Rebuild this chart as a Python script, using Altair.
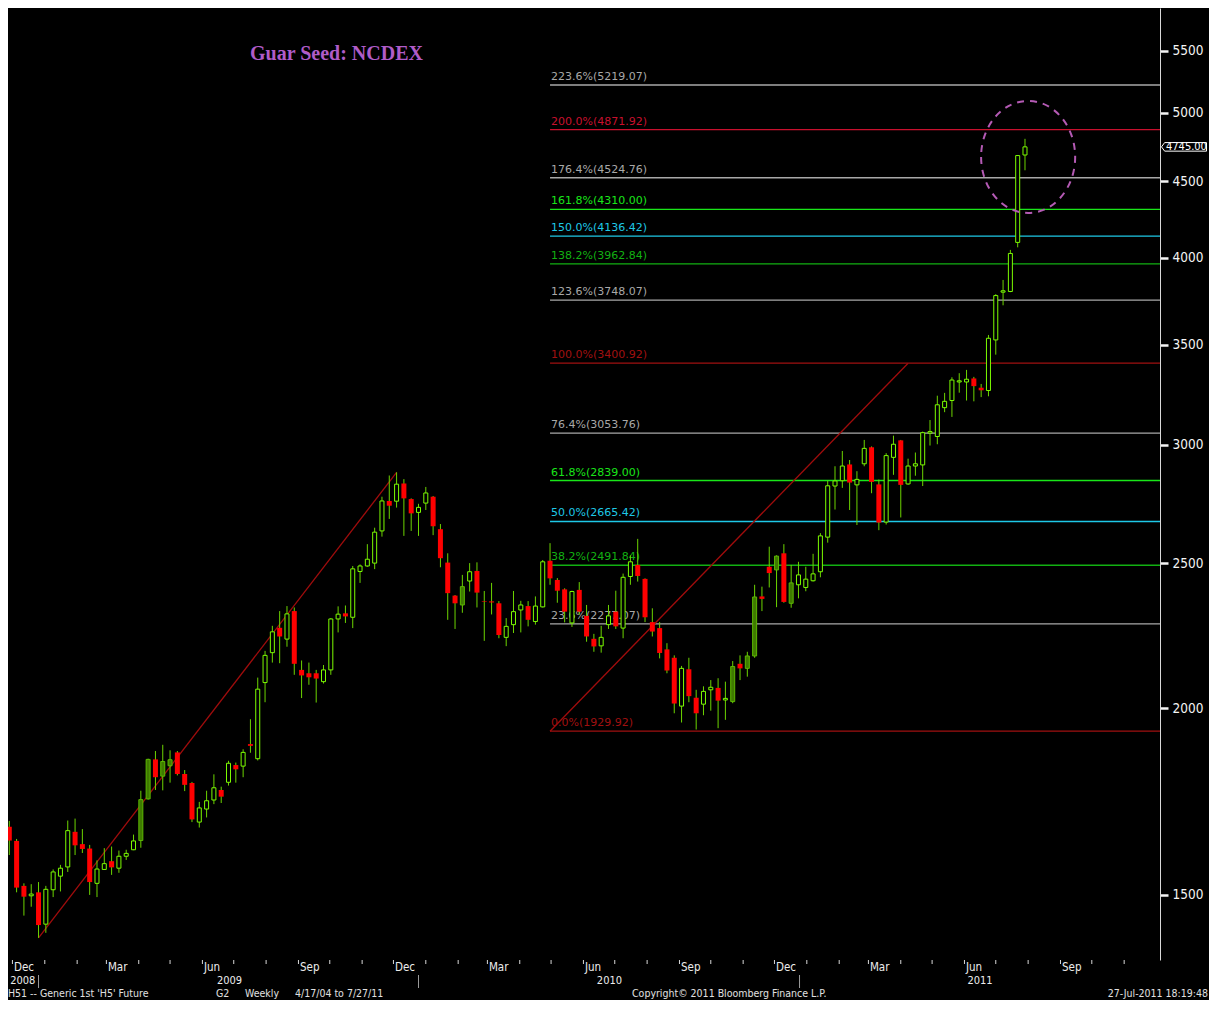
import altair as alt
import pandas as pd

# ---------------- data ----------------
start_date = "2008-11-28"   # first weekly bar (Friday)
opens = [1666,1630,1521,1498,1506,1434,1512,1544,1566,1653,1622,1611,1527,1560,1580,1563,1592,1608,1631,1739,
         1848,1801,1830,1868,1807,1782,1678,1712,1736,1763,1784,1832,1829,1892,1850,2080,2178,2263,2224,2322,
         2121,2110,2110,2083,2121,2294,2314,2300,2468,2489,2500,2627,2751,2750,2826,2759,2703,2742,2769,2634,
         2502,2378,2344,2432,2470,2357,2357,2350,2230,2274,2326,2340,2285,2337,2509,2436,2401,2280,2399,2305,
         2225,2201,2274,2320,2262,2449,2493,2440,2283,2262,2189,2161,2006,2123,2032,2012,2057,2063,2025,2020,
         2141,2126,2167,2375,2486,2474,2538,2350,2418,2408,2433,2467,2602,2815,2838,2910,2820,2913,2988,2822,
         2663,2942,3020,2824,2903,2908,3054,3038,3176,3211,3304,3304,3322,3275,3261,3525,3794,3798,4096,4686]
highs = [1681,1635,1527,1525,1530,1521,1560,1571,1682,1687,1660,1620,1582,1612,1616,1606,1608,1646,1761,1850,
         1872,1890,1874,1872,1818,1785,1731,1761,1806,1772,1844,1839,1877,1966,2096,2184,2270,2322,2340,2335,
         2152,2145,2121,2137,2297,2339,2342,2489,2495,2574,2640,2769,2861,2875,2845,2762,2739,2811,2772,2655,
         2538,2380,2455,2500,2503,2395,2425,2358,2297,2395,2359,2358,2375,2512,2578,2443,2405,2396,2428,2344,
         2242,2270,2344,2396,2460,2530,2595,2442,2332,2283,2210,2169,2134,2161,2057,2068,2088,2094,2083,2150,
         2169,2181,2418,2411,2564,2530,2574,2493,2505,2486,2536,2618,2838,2902,2971,2930,2880,3022,2992,2843,
         2961,3042,3022,2936,2964,3061,3116,3235,3249,3328,3349,3366,3330,3294,3552,3782,3866,4049,4686,4804]
lows = [1595,1506,1453,1473,1404,1415,1495,1508,1554,1595,1600,1500,1495,1559,1547,1552,1583,1607,1613,1737,
        1763,1762,1783,1803,1760,1678,1664,1690,1725,1728,1775,1783,1798,1867,1845,2018,2145,2143,2198,2105,
        2031,2073,2017,2077,2105,2247,2280,2262,2425,2486,2477,2604,2676,2723,2607,2627,2607,2713,2610,2484,
        2291,2259,2316,2393,2335,2218,2310,2227,2200,2245,2247,2268,2274,2335,2418,2352,2282,2266,2309,2215,
        2181,2178,2259,2259,2227,2418,2430,2283,2233,2159,2110,1984,1956,2018,1935,1978,1992,1939,1964,2015,
        2088,2099,2161,2322,2408,2336,2352,2334,2368,2394,2430,2446,2580,2715,2807,2713,2651,2902,2784,2630,
        2653,2864,2682,2820,2860,2815,2996,3002,3154,3131,3250,3211,3207,3228,3232,3446,3718,3794,4065,4577]
closes = [1631,1517,1496,1502,1432,1513,1554,1563,1656,1619,1610,1530,1561,1574,1565,1592,1599,1630,1737,1848,
          1798,1842,1847,1807,1777,1685,1715,1734,1769,1745,1837,1820,1868,1887,2059,2169,2249,2233,2312,2141,
          2103,2097,2093,2121,2294,2311,2303,2478,2489,2515,2622,2751,2731,2823,2762,2699,2724,2785,2646,2519,
          2387,2350,2411,2467,2389,2355,2353,2238,2268,2320,2344,2291,2340,2505,2442,2396,2320,2393,2320,2233,
          2199,2230,2305,2268,2446,2505,2451,2300,2250,2177,2119,2014,2126,2037,1984,2052,2065,2023,2030,2132,
          2126,2167,2373,2366,2462,2527,2355,2425,2455,2439,2459,2607,2816,2837,2903,2830,2844,2983,2833,2661,
          2950,3002,2820,2903,2913,3056,3061,3190,3207,3314,3310,3318,3283,3262,3534,3774,3802,4027,4682,4745]
# candle shading: u = hollow green, g = solid dark green, d = red
shade_rows = ["ddduduuuuddduuduuugg",
              "dggddduuudududuuudud",
              "ddduuuduuuuududduudd",
              "ddgudddduuuduudddudd",
              "duuduuddddddudduudug",
              "dggddgdguuuuuuuduudd",
              "uuduuuuuuuuudduuuuuu"]

fib_pct = ["223.6%", "200.0%", "176.4%", "161.8%", "150.0%", "138.2%", "123.6%",
           "100.0%", "76.4%", "61.8%", "50.0%", "38.2%", "23.6%", "0.0%"]
fib_val = [5219.07, 4871.92, 4524.76, 4310.00, 4136.42, 3962.84, 3748.07,
           3400.92, 3053.76, 2839.00, 2665.42, 2491.84, 2277.07, 1929.92]
fib_kind = ["gray", "red", "gray", "lime", "cyan", "green", "gray",
            "dred", "gray", "lime", "cyan", "green", "gray", "dred"]
fib_start = "2010-04-30"

trend_dates = [["2008-12-26", "2009-12-04"], ["2010-04-30", "2011-04-08"]]
trend_vals = [[1404.0, 2875.0], [1929.92, 3400.92]]

x_domain = ["2008-11-26T18:07:00", "2011-12-05T07:48:00"]
y_domain = [1357, 5876]
y_ticks = [1500, 2000, 2500, 3000, 3500, 4000, 4500, 5000, 5500]
month_ticks = pd.date_range("2008-12-01", "2011-11-01", freq="MS").strftime("%Y-%m-%d").tolist()
quarter_labels = ["Dec", "Mar", "Jun", "Sep"]
last_price = 4745.00
years = ["2008", "2009", "2010", "2011"]
year_label_dates = ["2008-12-23", "2009-07-09", "2010-07-08", "2011-06-28"]
year_sep_dates = ["2008-12-26", "2009-12-25", "2010-12-25"]
foot_parts = ["H51 -- Generic 1st 'H5' Future", "G2", "Weekly", "4/17/04 to 7/27/11",
              "Copyright\u00a9 2011 Bloomberg Finance L.P."]
foot_right = "27-Jul-2011 18:19:48"
title_text = "Guar Seed: NCDEX"
circle_center = ("2011-08-01", 4672)

# ---------------- frames ----------------
shade = "".join(shade_rows)
dates = pd.date_range(start_date, periods=len(opens), freq="7D").strftime("%Y-%m-%d")
df = pd.DataFrame({"date": dates, "open": opens, "high": highs, "low": lows,
                   "close": closes, "shade": list(shade)})
df["top"] = df[["open", "close"]].max(axis=1)
df["bot"] = df[["open", "close"]].min(axis=1)

fib = pd.DataFrame({"pct": fib_pct, "val": fib_val, "kind": fib_kind, "date": fib_start})
fib["label"] = [f"{p}({v:.2f})" for p, v in zip(fib_pct, fib_val)]

trend = pd.DataFrame([{"id": i, "date": d, "val": v}
                      for i, (ds, vs) in enumerate(zip(trend_dates, trend_vals))
                      for d, v in zip(ds, vs)])

W, H = 1152, 952
ms = lambda s: int(pd.Timestamp(s).value // 10**6)
xscale = alt.Scale(domain=[ms(x_domain[0]), ms(x_domain[1])], padding=0, nice=False)
yscale = alt.Scale(type="log", domain=y_domain, nice=False, padding=0)

NARROW = "DejaVu Sans Condensed, Liberation Sans Narrow, sans-serif"
XC = alt.X("date:T", scale=xscale, axis=None)

base = alt.Chart(df)
X = alt.X("date:T", scale=xscale,
          axis=alt.Axis(title=None, grid=False, labels=False, ticks=False,
                        domainColor="#d8d8d8"))
Y = alt.Y("low:Q", scale=yscale,
          axis=alt.Axis(orient="right", values=y_ticks, title=None, grid=False, format="d",
                        labelColor="#f4f4f4", labelFont=NARROW, labelFontSize=13.5,
                        tickSize=8, tickColor="#f4f4f4", tickWidth=2.5, labelPadding=4,
                        domainColor="#d8d8d8"))

fib_colors = alt.Scale(domain=["gray", "red", "lime", "cyan", "green", "dred"],
                       range=["#a8a8a8", "#c8102e", "#19e619", "#1ec8e6", "#12b012", "#a01010"])
fib_text_colors = alt.Scale(domain=["gray", "red", "lime", "cyan", "green", "dred"],
                            range=["#b8b8b8", "#ff2a2a", "#2ef22e", "#2ad2f0", "#1ed21e", "#e01e1e"])

fib_rules = alt.Chart(fib).mark_rule(strokeWidth=1.3).encode(
    x=XC, x2=alt.value(W), y=alt.Y("val:Q", scale=yscale),
    color=alt.Color("kind:N", scale=fib_colors, legend=None))
fib_text = alt.Chart(fib).mark_text(align="left", baseline="bottom", dx=1, dy=-3,
                                    font="DejaVu Sans", fontSize=11).encode(
    x=XC, y=alt.Y("val:Q", scale=yscale), text="label:N",
    color=alt.Color("kind:N", scale=fib_text_colors, legend=None))

trend_lines = alt.Chart(trend).mark_line(color="#a00c0c", strokeWidth=1.3).encode(
    x=XC, y=alt.Y("val:Q", scale=yscale), detail="id:N")

wicks = base.mark_rule(color="#6cd400", strokeWidth=1).encode(x=X, y=Y, y2="high:Q")
body_red = base.transform_filter("datum.shade == 'd'").mark_bar(size=5, color="#ff0000").encode(
    x=XC, y=alt.Y("bot:Q", scale=yscale), y2="top:Q")
body_up = base.transform_filter("datum.shade == 'u'").mark_bar(
    size=4, fill="#000000", stroke="#7cfc00", strokeWidth=1).encode(
    x=XC, y=alt.Y("bot:Q", scale=yscale), y2="top:Q")
body_dk = base.transform_filter("datum.shade == 'g'").mark_bar(
    size=4, fill="#3f7a00", stroke="#5cb800", strokeWidth=1).encode(
    x=XC, y=alt.Y("bot:Q", scale=yscale), y2="top:Q")

# x axis: monthly ticks, quarterly month names, year row
mt = pd.DataFrame({"date": month_ticks})
mt["m"] = pd.to_datetime(mt["date"]).dt.strftime("%b")
month_tick_marks = alt.Chart(mt).mark_rule(color="#d8d8d8", strokeWidth=1).encode(
    x=XC, y=alt.value(H), y2=alt.value(H + 4))
ql = mt[mt["m"].isin(quarter_labels)]
month_text = alt.Chart(ql).mark_text(align="left", baseline="middle", dx=1.5, fontSize=11.5,
                                     font=NARROW, color="#ececec").encode(
    x=XC, y=alt.value(H + 8), text="m:N")

yr = pd.DataFrame({"date": year_label_dates, "t": years})
year_text = alt.Chart(yr).mark_text(align="right", baseline="middle", fontSize=11,
                                    font=NARROW, color="#ececec").encode(
    x=XC, y=alt.value(H + 21.2), text="t:N")
ysep = pd.DataFrame({"date": year_sep_dates})
year_sep = alt.Chart(ysep).mark_rule(color="#9a9a9a", strokeWidth=1).encode(
    x=XC, y=alt.value(H + 15), y2=alt.value(H + 28))

title = alt.Chart(pd.DataFrame({"t": [title_text]})).mark_text(
    font="Liberation Serif", fontSize=20, fontWeight="bold", color="#b05cc8",
    align="left", baseline="middle").encode(x=alt.value(242), y=alt.value(46), text="t:N")

circle = alt.Chart(pd.DataFrame({"date": [circle_center[0]], "val": [circle_center[1]]})).mark_point(
    shape="M-0.84,0A0.84,1,0,1,0,0.84,0A0.84,1,0,1,0,-0.84,0Z", size=12544, filled=False,
    stroke="#b45ab4", strokeWidth=2, strokeDash=[7, 6], opacity=1).encode(
    x=XC, y=alt.Y("val:Q", scale=yscale))

lp = pd.DataFrame({"val": [last_price], "t": [f"{last_price:.2f}"]})
lp_box = alt.Chart(lp).mark_point(
    shape="M-1,0L-0.86,-0.19L1,-0.19L1,0.19L-0.86,0.19Z", size=2025, filled=True,
    fill="#000000", stroke="#ffffff", strokeWidth=1, opacity=1).encode(
    x=alt.value(W + 24), y=alt.Y("val:Q", scale=yscale))
lp_text = alt.Chart(lp).mark_text(align="left", baseline="middle", font=NARROW,
                                  fontSize=11, color="#ffffff").encode(
    x=alt.value(W + 6), y=alt.Y("val:Q", scale=yscale), text="t:N")

def ftext(s, xpos, align):
    return alt.Chart(pd.DataFrame({"t": [s]})).mark_text(
        align=align, baseline="alphabetic", fontSize=10.5, font=NARROW, color="#e0e0e0").encode(
        x=alt.value(xpos), y=alt.value(H + 37.3), text="t:N")

foot_x = [0, 208, 237, 287, 624]
footer = [ftext(s, xp, "left") for s, xp in zip(foot_parts, foot_x)] + [ftext(foot_right, 1200, "right")]

chart = alt.layer(
    fib_rules, fib_text, trend_lines, wicks, body_red, body_up, body_dk,
    month_tick_marks, month_text, year_text, year_sep,
    title, circle, lp_box, lp_text, *footer
).properties(
    width=W, height=H, background="#000000",
    autosize=alt.AutoSizeParams(type="none"),
    padding={"left": 0, "top": 0, "right": 49, "bottom": 40}
).configure_view(stroke=None).configure_axis(domainWidth=1)

chart.save("out.html", embed_options={"renderer": "svg", "actions": False})
